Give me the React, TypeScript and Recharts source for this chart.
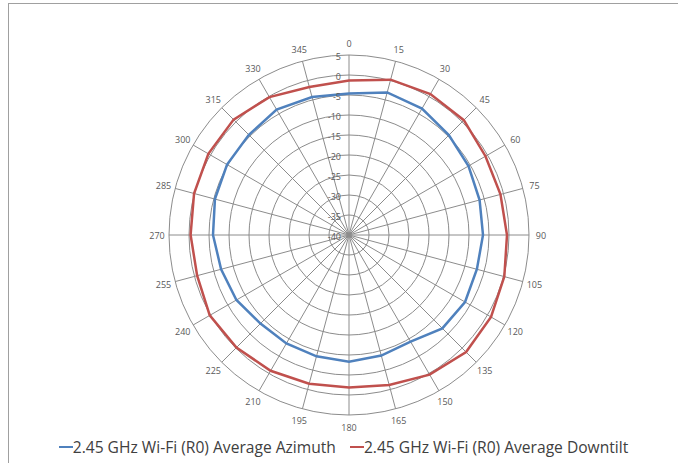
import React from "react";
import {
  RadarChart,
  Radar,
  PolarGrid,
  PolarAngleAxis,
  PolarRadiusAxis,
  Legend,
} from "recharts";

const ANGLES = [
  "0", "15", "30", "45", "60", "75", "90", "105", "120", "135", "150", "165",
  "180", "195", "210", "225", "240", "255", "270", "285", "300", "315", "330", "345",
];

// dB values, one per angle
const AZIMUTH = [
  -4.6, -3.1, -3.5, -4.7, -5.5, -6.2, -6.5, -6.9, -6.5, -7.0, -9.2, -8.8,
  -8.3, -8.6, -8.7, -8.7, -7.5, -6.9, -6.0, -5.3, -4.8, -4.6, -3.8, -4.3,
];
const DOWNTILT = [
  -1.4, 0.2, 0.7, 0.6, -0.6, -0.8, -0.5, 0.2, 1.0, 1.4, 0.3, -1.2,
  -1.9, -1.5, -0.8, -0.2, 0.2, -0.7, -0.4, 0.1, 0.6, 0.8, -0.2, -1.7,
];

const RADIUS_TICKS = [-40, -35, -30, -25, -20, -15, -10, -5, 0, 5];

const SERIES = [
  { key: "azimuth", name: "2.45 GHz Wi-Fi (R0) Average Azimuth", color: "#4F81BD" },
  { key: "downtilt", name: "2.45 GHz Wi-Fi (R0) Average Downtilt", color: "#C0504D" },
];

const FONT = "'Open Sans', 'Noto Sans', sans-serif";
const TICK_COLOR = "#595959";

function AngleTick(props: any) {
  const { x, y, payload } = props;
  return (
    <text
      x={x}
      y={y}
      textAnchor="middle"
      dominantBaseline="central"
      fontSize={9}
      fontFamily={FONT}
      fill={TICK_COLOR}
    >
      {payload.value}
    </text>
  );
}

function RadiusTick(props: any) {
  const { x, y, payload } = props;
  return (
    <text
      x={x - 8}
      y={y + 1}
      textAnchor="end"
      dominantBaseline="central"
      fontSize={9}
      fontFamily={FONT}
      fill={TICK_COLOR}
    >
      {payload.value}
    </text>
  );
}

function LegendContent() {
  return (
    <div
      style={{
        display: "flex",
        justifyContent: "center",
        alignItems: "center",
        fontFamily: FONT,
        fontSize: 15.6,
        color: "#404040",
        whiteSpace: "nowrap",
      }}
    >
      {SERIES.map((s, i) => (
        <div
          key={s.key}
          style={{ display: "flex", alignItems: "center", marginLeft: i ? 14 : 0 }}
        >
          <span
            style={{ display: "inline-block", width: 14, height: 2.5, background: s.color }}
          />
          <span>{s.name}</span>
        </div>
      ))}
    </div>
  );
}

export default function App() {
  const data = ANGLES.map((angle, i) => ({
    angle,
    azimuth: AZIMUTH[i],
    downtilt: DOWNTILT[i],
  }));

  return (
    <div
      style={{
        position: "absolute",
        top: 3,
        left: 8,
        width: 670,
        height: 460,
        borderTop: "1px solid #a0a0a0",
        borderLeft: "1px solid #a0a0a0",
        fontFamily: FONT,
      }}
    >
      <RadarChart
        width={669}
        height={459}
        data={data}
        cx={340}
        cy={231}
        outerRadius={180}
        margin={{ top: 0, right: 0, bottom: 0, left: 0 }}
      >
        <PolarGrid gridType="circle" stroke="#8c8c8c" strokeWidth={1} />
        <PolarAngleAxis
          dataKey="angle"
          tick={<AngleTick />}
          tickLine={false}
          axisLine={false}
          tickSize={12}
        />
        <PolarRadiusAxis
          angle={90}
          type="number"
          domain={[-40, 5]}
          ticks={RADIUS_TICKS as any}
          tickCount={10}
          allowDataOverflow
          axisLine={false}
          tickLine={false}
          tick={<RadiusTick />}
        />
        {SERIES.map((s) => (
          <Radar
            key={s.key}
            name={s.name}
            dataKey={s.key}
            stroke={s.color}
            strokeWidth={2.5}
            fill="none"
            fillOpacity={0}
            dot={false}
            isAnimationActive={false}
          />
        ))}
        <Legend
          content={<LegendContent />}
          wrapperStyle={{ position: "absolute", top: 432, left: 0, width: 669, bottom: "auto" }}
        />
      </RadarChart>
    </div>
  );
}
